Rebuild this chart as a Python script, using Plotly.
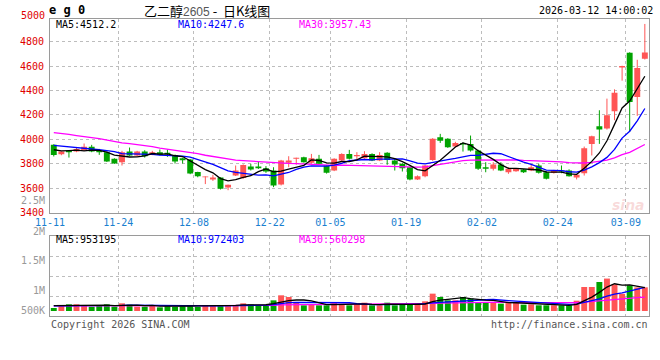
import plotly.graph_objects as go

# ---------------- data ----------------
tick_idx = [0, 9, 19, 29, 37, 47, 57, 67, 76]
tick_labels = ["11-11", "11-24", "12-08", "12-22", "01-05", "01-19", "02-02", "02-24", "03-09"]

opens = [3955, 3879, 3906, 3900, 3911, 3939, 3906, 3895, 3841, 3813,
         3900, 3868, 3900, 3879, 3895, 3890, 3873, 3846, 3835, 3732,
         3690, 3672, 3688, 3606, 3704, 3683, 3778, 3778, 3764, 3745,
         3631, 3808, 3841, 3854, 3808, 3841, 3786, 3745, 3827, 3881,
         3862, 3846, 3881, 3827, 3890, 3827, 3800, 3772, 3672, 3699,
         3832, 4018, 4004, 3941, 3971, 3963, 3909, 3772, 3759, 3794,
         3731, 3740, 3753, 3745, 3786, 3731, 3726, 3745, 3745, 3688,
         3723, 3963, 4107, 4089, 4230, 4588, 4708, 4347, 4659]
highs = [3960, 3903, 3908, 3935, 3966, 3955, 3922, 3900, 3845, 3906,
         3933, 3906, 3911, 3906, 3917, 3917, 3876, 3850, 3840, 3735,
         3697, 3710, 3690, 3630, 3786, 3795, 3800, 3819, 3781, 3772,
         3832, 3862, 3850, 3858, 3881, 3873, 3790, 3845, 3886, 3914,
         3895, 3903, 3886, 3895, 3895, 3840, 3805, 3775, 3705, 3790,
         4010, 4045, 4010, 3980, 3975, 4031, 3915, 3813, 3813, 3813,
         3772, 3765, 3757, 3790, 3800, 3740, 3750, 3786, 3755, 3715,
         3941, 4030, 4238, 4333, 4409, 4602, 4712, 4651, 4944]
lows = [3860, 3870, 3851, 3895, 3905, 3895, 3873, 3815, 3800, 3786,
        3865, 3862, 3851, 3870, 3868, 3857, 3802, 3802, 3715, 3690,
        3634, 3660, 3590, 3584, 3700, 3677, 3745, 3758, 3726, 3609,
        3623, 3772, 3792, 3810, 3800, 3795, 3720, 3740, 3822, 3835,
        3827, 3841, 3822, 3822, 3792, 3745, 3737, 3665, 3668, 3690,
        3825, 3971, 3930, 3935, 3900, 3900, 3750, 3731, 3745, 3740,
        3718, 3735, 3725, 3740, 3720, 3672, 3720, 3723, 3695, 3672,
        3704, 3868, 3963, 4080, 4157, 4480, 4060, 4192, 4653]
closes = [3873, 3900, 3895, 3922, 3939, 3900, 3895, 3819, 3802, 3895,
          3868, 3900, 3862, 3895, 3873, 3880, 3819, 3830, 3721, 3699,
          3693, 3688, 3595, 3628, 3745, 3791, 3753, 3764, 3737, 3623,
          3827, 3827, 3849, 3813, 3846, 3800, 3726, 3841, 3881, 3841,
          3873, 3881, 3827, 3873, 3832, 3794, 3764, 3672, 3699, 3786,
          4004, 3988, 3936, 3971, 3958, 3909, 3759, 3759, 3794, 3745,
          3759, 3759, 3731, 3772, 3726, 3677, 3745, 3737, 3699, 3710,
          3928, 4026, 4080, 4197, 4382, 4600, 4306, 4583, 4710]
volumes = [122, 231, 271, 271, 231, 176, 231, 271, 176, 312,
           258, 176, 176, 231, 149, 231, 176, 231, 231, 176,
           231, 231, 231, 231, 231, 312, 271, 231, 231, 434,
           638, 570, 366, 231, 258, 231, 231, 326, 285, 231,
           271, 339, 231, 231, 339, 231, 258, 285, 258, 394,
           706, 570, 434, 434, 570, 502, 366, 339, 366, 299,
           339, 339, 258, 271, 231, 231, 231, 231, 231, 420,
           977, 977, 1181, 1320, 1086, 700, 1045, 960, 963]  # thousands of lots

# moving-average values before the windows fill
ma5_head = [3915, 3905, 3908, 3912]
ma10_head = [3950, 3945, 3937, 3930, 3925, 3920, 3915, 3908, 3900]
ma30_head = [4055, 4050, 4040, 4031, 4025, 4015, 4006, 3995, 3980, 3971,
             3965, 3958, 3950, 3940, 3928, 3920, 3912, 3903, 3893, 3883,
             3870, 3860, 3850, 3840, 3830, 3826, 3822, 3818, 3815]
vma5_head = [215, 220, 222, 225]
vma10_head = [210, 210, 212, 214, 216, 218, 220, 222, 224]
vma30_head = [208, 207, 207, 208, 209, 209, 210, 211, 210, 212, 213, 212, 214, 215,
              214, 216, 217, 216, 218, 219, 219, 221, 222, 221, 223, 224, 224, 226, 227]

ma_labels = ["MA5:4512.2", "MA10:4247.6", "MA30:3957.43"]
vma_labels = ["MA5:953195", "MA10:972403", "MA30:560298"]

# ---------------- helpers ----------------
N = len(closes)
idx = list(range(N))


def moving(vals, n, head):
    out = []
    for i in range(len(vals)):
        if i < n - 1:
            out.append(head[i])
        else:
            out.append(sum(vals[i - n + 1:i + 1]) / n)
    return out


RED = "#ff5555"
GREEN = "#00a300"
MONO = "DejaVu Sans Mono"

up = [c >= o for o, c in zip(opens, closes)]
colors = [RED if u else GREEN for u in up]

fig = go.Figure()

# wicks
for flag, col in ((True, RED), (False, GREEN)):
    wx, wy = [], []
    for i in idx:
        if up[i] == flag:
            wx += [i, i, None]
            wy += [lows[i], highs[i], None]
    fig.add_trace(go.Scatter(x=wx, y=wy, mode="lines", line=dict(color=col, width=1),
                             xaxis="x", yaxis="y", hoverinfo="skip", showlegend=False))

# bodies
body_base = [min(o, c) for o, c in zip(opens, closes)]
body_h = [max(abs(c - o), 7) for o, c in zip(opens, closes)]
fig.add_trace(go.Bar(x=idx, y=body_h, base=body_base, width=0.78,
                     marker=dict(color=colors, line=dict(width=0)),
                     xaxis="x", yaxis="y", showlegend=False))

# price MAs
for n, head, col in ((30, ma30_head, "#ff00ff"), (10, ma10_head, "#0000ff"), (5, ma5_head, "#000000")):
    fig.add_trace(go.Scatter(x=idx, y=moving(closes, n, head), mode="lines",
                             line=dict(color=col, width=1.3), xaxis="x", yaxis="y",
                             showlegend=False))

# volume
vol_units = [v * 1000 for v in volumes]
fig.add_trace(go.Bar(x=idx, y=vol_units, width=0.78,
                     marker=dict(color=colors, line=dict(width=0)),
                     xaxis="x2", yaxis="y2", showlegend=False))
for n, head, col in ((30, vma30_head, "#ff00ff"), (10, vma10_head, "#0000ff"), (5, vma5_head, "#000000")):
    h = [v * 1000 for v in head]
    fig.add_trace(go.Scatter(x=idx, y=moving(vol_units, n, h), mode="lines",
                             line=dict(color=col, width=1.3), xaxis="x2", yaxis="y2",
                             showlegend=False))

# ---------------- layout ----------------
W, H = 660, 360
L, R, T, B = 50, 11, 19, 44
PW = W - L - R          # 599
PH = H - T - B          # 297
REF_L, REF_B = 50, 316  # plot-area left / bottom in pixels


def px(x):
    return (x - REF_L) / PW


def py(y):
    return (REF_B - y) / PH


main_dom = [py(212.7), 1]
vol_dom = [0, py(236)]

grid = dict(showgrid=True, gridcolor="#bdbdbd", griddash="dot", gridwidth=1)
frame = dict(showline=True, mirror=True, linecolor="#9a9a9a", linewidth=1, zeroline=False)

xr = [-0.5, 78.55]
gvals = [t - 0.5 for t in tick_idx]

fig.update_layout(
    width=W, height=H, margin=dict(l=L, r=R, t=T, b=B),
    paper_bgcolor="white", plot_bgcolor="white", barmode="overlay",
    showlegend=False, hovermode=False,
    xaxis=dict(domain=[0, 1], range=xr, anchor="y", tickvals=gvals, ticktext=tick_labels,
               tickfont=dict(family=MONO, size=10, color="#1a7fd0"), ticks="",
               **grid, **frame),
    xaxis2=dict(domain=[0, 1], range=xr, anchor="y2", matches="x", tickvals=gvals,
                showticklabels=False, ticks="", **grid, **frame),
    yaxis=dict(domain=main_dom, range=[3400, 4984.5],
               tickvals=[3400, 3600, 3800, 4000, 4200, 4400, 4600, 4800],
               tickfont=dict(family=MONO, size=10, color="#e00000"), ticks="",
               ticklabelstandoff=3, **grid, **frame),
    yaxis2=dict(domain=vol_dom, range=[-203500, 3052500],
                tickvals=[610500, 1424500, 2238500], showticklabels=False, ticks="",
                **grid, **frame),
)

ann = []


def add(text, x, y, color="#000", size=10, anchor="left", family=MONO, **kw):
    ann.append(dict(text=text, x=px(x), y=py(y), xref="paper", yref="paper",
                    xanchor=anchor, yanchor="middle", showarrow=False,
                    font=dict(family=family, size=size, color=color), **kw))


add("<b>e g 0</b>", 47, 10, size=12)
add('乙二醇<span style="font-family:Liberation Sans;font-size:12px;color:#555">2605</span> -  日K线图',
    142, 10, size=13, family="Noto Sans CJK SC")
add("2026-03-12 14:00:02", 655, 10, anchor="right")
add("5000", 47, 16, color="#e00000", anchor="right")
add("2.5M", 47, 200.5, color="#999", anchor="right")
add(ma_labels[0], 54, 24.5)
add(ma_labels[1], 176, 24.5, color="#0000ff")
add(ma_labels[2], 297, 24.5, color="#ff00ff")
add(vma_labels[0], 54, 239)
add(vma_labels[1], 176, 239, color="#0000ff")
add(vma_labels[2], 297, 239, color="#ff00ff")
add("2M", 47, 231.7, color="#999", anchor="right")
add("1.5M", 47, 260, color="#999", anchor="right")
add("1M", 47, 290.7, color="#999", anchor="right")
add("500K", 47, 310.7, color="#999", anchor="right")
add("Copyright 2026 SINA.COM", 49, 324, color="#555")
add("http://finance.sina.com.cn", 650, 324, color="#555", anchor="right")
add("<b><i>sina</i></b>", 628, 205, color="rgba(230,110,110,0.25)", size=14,
    anchor="center", family="DejaVu Sans")

fig.update_layout(annotations=ann)

# remove the browser's default 8px body margin so the figure fills the window
fig.write_html("out.html",
               config={"displayModeBar": False, "staticPlot": True},
               post_script="document.body.style.margin='0';document.body.style.overflow='hidden';")
